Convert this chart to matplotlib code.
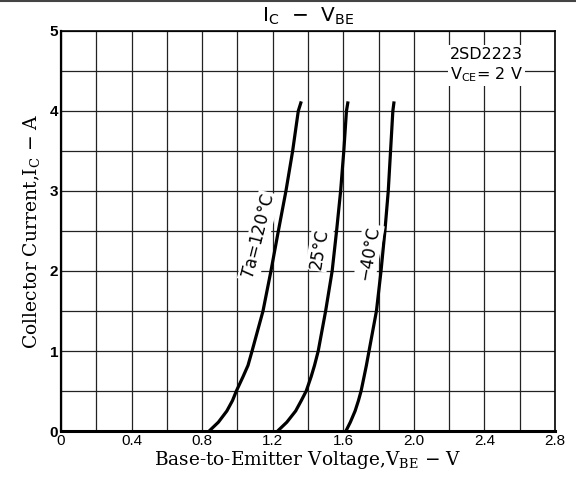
import matplotlib
matplotlib.use("Agg")
import matplotlib.pyplot as plt
import numpy as np

# Ic - Vbe curves
ic = [0, 0.11, 0.25, 0.38, 0.5, 0.68, 0.82, 1.0, 1.5, 2.0, 2.5, 3.0, 3.5, 4.0, 4.12]
vbe_120 = [0.84, 0.892, 0.94, 0.972, 0.994, 1.032, 1.06, 1.083, 1.145, 1.19, 1.232, 1.275, 1.313, 1.345, 1.362]
vbe_25 = [1.228, 1.28, 1.33, 1.362, 1.39, 1.418, 1.437, 1.458, 1.50, 1.537, 1.562, 1.585, 1.603, 1.618, 1.627]
vbe_m40 = [1.615, 1.64, 1.667, 1.686, 1.701, 1.718, 1.731, 1.746, 1.788, 1.814, 1.836, 1.855, 1.868, 1.881, 1.888]

x_ticks = [0, 0.4, 0.8, 1.2, 1.6, 2.0, 2.4, 2.8]
x_labels = ["0", "0.4", "0.8", "1.2", "1.6", "2.0", "2.4", "2.8"]
y_ticks = [0, 1, 2, 3, 4, 5]

fig = plt.figure(figsize=(5.76, 4.79), dpi=100)
ax = fig.add_axes([0.1059, 0.1002, 0.8576, 0.8351])

ax.set_xlim(0, 2.8)
ax.set_ylim(0, 5)
ax.set_xticks(x_ticks)
ax.set_xticklabels(x_labels, fontsize=11, family="Liberation Sans")
ax.set_xticks(np.arange(0, 2.81, 0.2), minor=True)
ax.set_yticks(y_ticks)
ax.set_yticklabels([str(v) for v in y_ticks], fontsize=11, family="Liberation Sans", fontweight="bold")
ax.set_yticks(np.arange(0, 5.01, 0.5), minor=True)
ax.tick_params(which="both", length=0, pad=2)
ax.grid(True, which="both", color="#222222", lw=0.9)
ax.set_axisbelow(True)

for s in ax.spines.values():
    s.set_linewidth(1.2)
ax.spines["bottom"].set_linewidth(2.2)
ax.spines["left"].set_linewidth(1.6)

for v in [vbe_120, vbe_25, vbe_m40]:
    ax.plot(v, ic, color="black", lw=2.3, solid_capstyle="butt", zorder=3)

box = dict(facecolor="white", edgecolor="none", pad=1.5)
ax.text(1.12, 2.43, r"$\mathit{T}\mathregular{a}$=120°C", rotation=76, fontsize=12,
        ha="center", va="center", bbox=box, zorder=4)
ax.text(1.465, 2.28, "25°C", rotation=80, fontsize=12,
        ha="center", va="center", bbox=box, zorder=4)
ax.text(1.745, 2.22, "−40°C", rotation=80, fontsize=12,
        ha="center", va="center", bbox=box, zorder=4)
ax.text(2.41, 4.7, "2SD2223", fontsize=11.5, ha="center", va="center",
        bbox=box, zorder=4)
ax.text(2.41, 4.45, r"$\mathregular{V_{CE}}$= 2 V", fontsize=11.5, ha="center",
        va="center", bbox=box, zorder=4)

ax.set_xlabel(r"Base-to-Emitter Voltage,V$_{\mathregular{BE}}$ $-$ V",
              family="DejaVu Serif", fontsize=13.3, labelpad=1)
ax.set_ylabel(r"Collector Current,I$_{\mathregular{C}}$ $-$ A",
              family="DejaVu Serif", fontsize=13.5, labelpad=5)
fig.text(0.536, 0.966, r"$\mathregular{I_C}$  $-$  $\mathregular{V_{BE}}$",
         fontsize=14.5, ha="center", va="center")

fig.add_artist(plt.Line2D([0, 1], [0.998, 0.998], color="#444444", lw=1.5))

fig.savefig("out.png", dpi=100)
